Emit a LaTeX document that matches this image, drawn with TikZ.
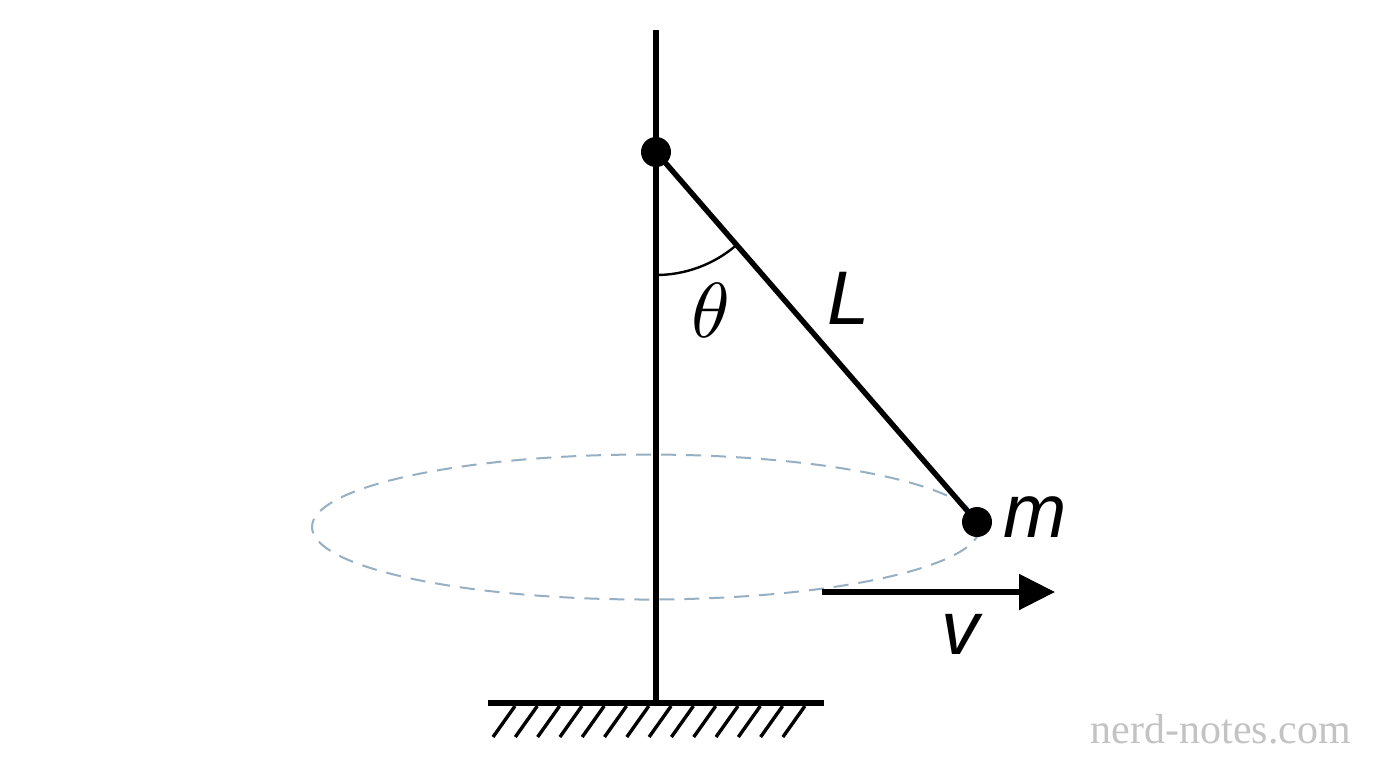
\documentclass[tikz,border=0pt]{standalone}
\usepackage{fontspec}
\newfontfamily\labfont{Liberation Sans}
\newfontfamily\wmfont{Liberation Serif}
\usetikzlibrary{arrows.meta}
\definecolor{orbitcol}{RGB}{150,175,195}
\definecolor{wmcol}{RGB}{195,195,195}
\begin{document}
\begin{tikzpicture}[x=0.5pt,y=-0.5pt,
  rodline/.style={line width=2.7pt,black},
  dotnode/.style={circle,fill=black,inner sep=0pt,minimum size=15pt},
  lab/.style={inner sep=0pt,anchor=base,font=\labfont\itshape\fontsize{38}{40}\selectfont},
  hatchline/.style={line width=1.7pt},
  orbit/.style={orbitcol,line width=1pt,dash pattern=on 7.5pt off 5pt}]
\useasboundingbox[fill=white] (0,0) rectangle (1376,768);
% orbit
\draw[orbit] (646,527) ellipse [x radius=334, y radius=72.5];
% pole and ground
\coordinate (top) at (656,30);
\coordinate (base) at (656,703);
\coordinate (gl) at (488,703);
\coordinate (gr) at (824,703);
\draw[rodline] (top) -- (base);
\draw[rodline] (gl) -- (gr);
\foreach \i in {0,...,13} {
  \draw[hatchline] ({515+\i*22.3},706) -- ({493+\i*22.3},737);
}
% pivot and mass
\node[dotnode] (pivot) at (656,152) {};
\node[dotnode] (mass) at (977,522) {};
\draw[rodline] (pivot.center) -- (mass.center);
% angle arc
\draw[line width=1.2pt] (656,275) arc[start angle=-90, end angle={-90+atan(321/370)}, radius=123*0.5pt];
% labels
\node[inner sep=0pt,anchor=base] (theta) at (711,337) {\scalebox{3.9}{$\theta$}};
\node[lab] (Llab) at (849,324) {L};
\node[lab] (mlab) at (1035,537) {m};
\node[lab] (vlab) at (960,654) {v};
% velocity arrow
\coordinate (vs) at (822,592);
\coordinate (ve) at (1055,592);
\draw[rodline,-{Triangle[length=18pt,width=17.5pt]}] (vs) -- (ve);
% watermark
\node[inner sep=0pt,anchor=base,text=wmcol,font=\wmfont\fontsize{21}{24}\selectfont] (wm) at (1221,743) {nerd-notes.com};
\end{tikzpicture}
\end{document}
